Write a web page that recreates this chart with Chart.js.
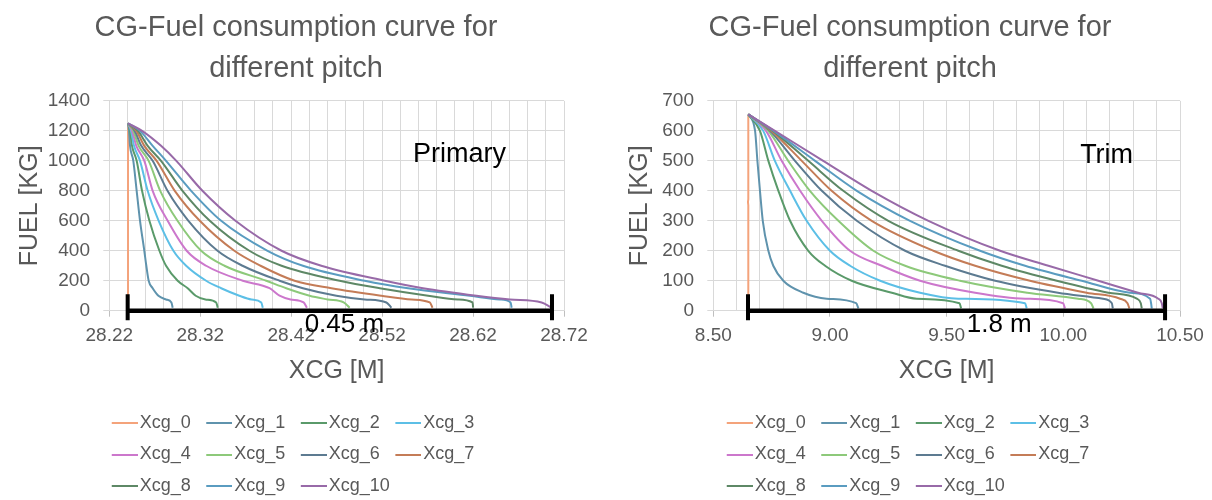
<!DOCTYPE html>
<html>
<head>
<meta charset="utf-8">
<title>CG-Fuel consumption curve for different pitch</title>
<script src="https://cdn.jsdelivr.net/npm/chart.js@4.4.1/dist/chart.umd.min.js"></script>
<style>
  body { margin: 0; background: #fff; }
  .wrap { display: flex; width: 1212px; height: 500px; }
  canvas { display: block; }
</style>
</head>
<body>
<div class="wrap">
  <canvas id="primary" width="606" height="500"></canvas>
  <canvas id="trim" width="606" height="500"></canvas>
</div>
<script>
/* CG vs fuel curves, Primary and Trim pitch */

const seriesNames = ['Xcg_0', 'Xcg_1', 'Xcg_2', 'Xcg_3', 'Xcg_4', 'Xcg_5',
                     'Xcg_6', 'Xcg_7', 'Xcg_8', 'Xcg_9', 'Xcg_10'];

// ---- Primary: fuel levels (kg) and XCG (m) per curve ----
const primaryFuel0 = [1250, 0];
const primaryX0    = [28.2406, 28.2406];
const primaryFuel  = [1250, 1200, 1100, 1000, 800, 600, 400, 300, 200, 150, 100, 75, 55, 20];
const primaryX1  = [28.2406, 28.2417, 28.2428, 28.2464, 28.2501, 28.2538, 28.2585, 28.2607, 28.2633, 28.2677, 28.2740, 28.2824, 28.2883, 28.2897];
const primaryX2  = [28.2406, 28.2428, 28.2450, 28.2501, 28.2560, 28.2641, 28.2751, 28.2824, 28.2952, 28.3062, 28.3150, 28.3257, 28.3375, 28.3393];
const primaryX3  = [28.2406, 28.2439, 28.2472, 28.2538, 28.2622, 28.2743, 28.2905, 28.3045, 28.3265, 28.3430, 28.3630, 28.3764, 28.3871, 28.3888];
const primaryX4  = [28.2406, 28.2450, 28.2497, 28.2585, 28.2677, 28.2842, 28.3051, 28.3265, 28.3668, 28.3962, 28.4072, 28.4193, 28.4337, 28.4373];
const primaryX5  = [28.2406, 28.2464, 28.2523, 28.2633, 28.2760, 28.2950, 28.3210, 28.3466, 28.3926, 28.4146, 28.4403, 28.4601, 28.4777, 28.4843];
const primaryX6  = [28.2406, 28.2479, 28.2552, 28.2677, 28.2840, 28.3070, 28.3390, 28.3665, 28.4072, 28.4329, 28.4697, 28.5008, 28.5247, 28.5302];
const primaryX7  = [28.2406, 28.2497, 28.2585, 28.2721, 28.2920, 28.3195, 28.3575, 28.3863, 28.4237, 28.4642, 28.5192, 28.5526, 28.5724, 28.5754];
const primaryX8  = [28.2406, 28.2516, 28.2622, 28.2769, 28.3005, 28.3305, 28.3740, 28.4094, 28.4733, 28.5174, 28.5706, 28.6033, 28.6194, 28.6201];
const primaryX9  = [28.2406, 28.2538, 28.2677, 28.2824, 28.3100, 28.3430, 28.3940, 28.4329, 28.5008, 28.5485, 28.6165, 28.6495, 28.6613, 28.6624];
const primaryX10 = [28.2406, 28.2560, 28.2769, 28.2937, 28.3224, 28.3587, 28.4094, 28.4531, 28.5229, 28.5650, 28.6238, 28.6605, 28.6954, 28.7066];

// ---- Trim ----
const trimFuel0 = [655, 372, 362, 352, 0];
const trimX0    = [8.650, 8.650, 8.6485, 8.650, 8.650];
const trimFuel  = [655, 600, 500, 400, 300, 200, 150, 100, 60, 40, 25, 8];
const trimX1  = [8.650, 8.679, 8.689, 8.700, 8.712, 8.736, 8.757, 8.800, 8.886, 8.986, 9.112, 9.122];
const trimX2  = [8.650, 8.700, 8.736, 8.779, 8.829, 8.907, 8.979, 9.093, 9.265, 9.372, 9.555, 9.562];
const trimX3  = [8.650, 8.714, 8.764, 8.829, 8.900, 9.000, 9.086, 9.215, 9.386, 9.550, 9.836, 9.843];
const trimX4  = [8.650, 8.726, 8.793, 8.872, 8.965, 9.086, 9.222, 9.386, 9.622, 9.836, 9.999, 10.007];
const trimX5  = [8.650, 8.736, 8.821, 8.914, 9.036, 9.186, 9.322, 9.557, 9.845, 10.063, 10.119, 10.129];
const trimX6  = [8.650, 8.743, 8.850, 8.965, 9.115, 9.322, 9.493, 9.708, 9.977, 10.170, 10.208, 10.212];
const trimX7  = [8.650, 8.749, 8.879, 9.007, 9.179, 9.443, 9.622, 9.857, 10.100, 10.243, 10.275, 10.283];
const trimX8  = [8.650, 8.755, 8.907, 9.057, 9.250, 9.550, 9.736, 9.972, 10.193, 10.315, 10.332, 10.336];
const trimX9  = [8.650, 8.759, 8.936, 9.115, 9.343, 9.643, 9.836, 10.079, 10.286, 10.372, 10.376, 10.379];
const trimX10 = [8.650, 8.764, 8.971, 9.179, 9.422, 9.729, 9.936, 10.150, 10.320, 10.407, 10.422, 10.426];

const chartTitle = ['CG-Fuel consumption curve for', 'different pitch'];

const TEXT = '#595959';
const GRID = '#d9d9d9';
const FONT = '"Liberation Sans", Arial, sans-serif';
const seriesColors = ['#f4a37b', '#5f93ad', '#5a9a6a', '#5cbfe6', '#cc77cc', '#8dc97a',
                      '#5d7b91', '#c47c57', '#5e8866', '#5a9cc0', '#986aa8'];

Chart.defaults.font.family = FONT;
Chart.defaults.color = TEXT;

// short line used as legend marker
function legendLine(color) {
  const c = document.createElement('canvas');
  c.width = 35; c.height = 2;
  const g = c.getContext('2d');
  g.fillStyle = color;
  g.fillRect(9, 0, 26, 2);
  return c;
}

// move title / legend boxes to where the reference has them
const placeBoxes = {
  id: 'placeBoxes',
  afterLayout(chart, args, o) {
    const lg = chart.legend;
    if (lg) {
      const w = lg.right - lg.left, h = lg.bottom - lg.top;
      lg.left = o.legendLeft; lg.right = lg.left + w;
      lg.top = o.legendTop; lg.bottom = lg.top + h;
    }
    const t = chart.titleBlock;
    if (t) {
      const w = t.right - t.left;
      t.left = o.titleCenter - w / 2; t.right = t.left + w;
    }
  }
};

// black span marker along the x axis + labels
const measureBar = {
  id: 'measureBar',
  afterDatasetsDraw(chart, args, o) {
    const { ctx, scales: { x, y } } = chart;
    const x1 = x.getPixelForValue(o.from);
    const x2 = x.getPixelForValue(o.to);
    const y0 = y.getPixelForValue(0);
    ctx.save();
    ctx.strokeStyle = '#000';
    ctx.lineWidth = 4.5;
    ctx.beginPath();
    ctx.moveTo(x1, y0); ctx.lineTo(x2, y0);
    ctx.stroke();
    ctx.lineWidth = 4;
    ctx.beginPath();
    ctx.moveTo(x1, y0 - 16.5); ctx.lineTo(x1, y0 + 9.5);
    ctx.moveTo(x2, y0 - 16.5); ctx.lineTo(x2, y0 + 9.5);
    ctx.stroke();
    ctx.fillStyle = '#000';
    ctx.textAlign = 'left';
    ctx.textBaseline = 'alphabetic';
    ctx.font = '26px ' + FONT;
    ctx.fillText(o.span, x.getPixelForValue(o.spanX), y.getPixelForValue(o.spanY));
    ctx.font = '27px ' + FONT;
    ctx.fillText(o.name, x.getPixelForValue(o.nameX), y.getPixelForValue(o.nameY));
    ctx.restore();
  }
};

function buildDatasets(xs, fuels) {
  return xs.map((xv, i) => ({
    label: seriesNames[i],
    data: xv.map((x, j) => ({ x, y: fuels[i][j] })),
    showLine: true,
    borderColor: seriesColors[i],
    backgroundColor: seriesColors[i],
    borderWidth: 2,
    pointRadius: 0,
    pointHoverRadius: 0,
    pointStyle: legendLine(seriesColors[i]),
    tension: 0,
    cubicInterpolationMode: i === 0 ? 'default' : 'monotone',
    order: 10 - i,
  }));
}

function makeChart(id, cfg) {
  const isMajor = v => Math.round((v - cfg.xMin) / cfg.xStep) % 5 === 0;
  return new Chart(document.getElementById(id), {
    type: 'scatter',
    data: { datasets: buildDatasets(cfg.xs, cfg.fuels) },
    options: {
      responsive: false,
      animation: false,
      devicePixelRatio: 1,
      layout: { padding: { left: 0, top: 0, right: cfg.padRight, bottom: 0 } },
      plugins: {
        title: {
          display: true, text: chartTitle, color: TEXT,
          font: { size: 29, weight: 'normal', lineHeight: 1.4 },
          padding: { top: 7.6, bottom: 12.1 },
        },
        legend: {
          position: 'bottom', align: 'start', fullSize: false,
          labels: {
            color: TEXT, font: { size: 18 }, usePointStyle: true, pointStyleWidth: 21,
            padding: 13.5, sort: (a, b) => a.datasetIndex - b.datasetIndex,
          },
        },
        tooltip: { enabled: false },
        placeBoxes: { titleCenter: cfg.titleCenter, legendLeft: cfg.legendLeft, legendTop: 400.5 },
        measureBar: cfg.measure,
      },
      scales: {
        x: {
          type: 'linear', min: cfg.xMin, max: cfg.xMax,
          afterFit: s => { s.height = 84.8; },
          ticks: {
            stepSize: cfg.xStep, autoSkip: false, maxRotation: 0, minRotation: 0,
            color: TEXT, font: { size: 19 }, padding: 7.9,
            callback: v => isMajor(v) ? v.toFixed(2) : '',
          },
          grid: {
            color: GRID, tickLength: 6,
            tickColor: c => isMajor(c.tick.value) ? '#bfbfbf' : 'rgba(0,0,0,0)',
          },
          border: { color: GRID },
          title: {
            display: true, text: 'XCG [M]', color: TEXT, font: { size: 25 },
            padding: { top: 0, bottom: 9 },
          },
        },
        y: {
          min: 0, max: cfg.yMax,
          afterFit: s => { s.width = cfg.plotLeft; },
          ticks: {
            stepSize: cfg.yStep, color: TEXT, font: { size: 19 }, padding: 13.3,
            callback: v => String(v),
          },
          grid: { color: GRID, tickLength: 6 },
          border: { color: GRID },
          title: {
            display: true, text: 'FUEL [KG]', color: TEXT, font: { size: 25 },
            padding: { top: cfg.yTitlePad, bottom: 0 },
          },
        },
      },
    },
    plugins: [placeBoxes, measureBar],
  });
}

makeChart('primary', {
  xs: [primaryX0, primaryX1, primaryX2, primaryX3, primaryX4, primaryX5,
       primaryX6, primaryX7, primaryX8, primaryX9, primaryX10],
  fuels: [primaryFuel0, primaryFuel, primaryFuel, primaryFuel, primaryFuel, primaryFuel,
          primaryFuel, primaryFuel, primaryFuel, primaryFuel, primaryFuel],
  xMin: 28.22, xMax: 28.72, xStep: 0.02,
  yMax: 1400, yStep: 200,
  plotLeft: 109.3, padRight: 42, yTitlePad: 15,
  titleCenter: 296, legendLeft: 96.2,
  measure: { from: 28.2402, to: 28.7068, span: '0.45 m', spanX: 28.4348, spanY: -140,
             name: 'Primary', nameX: 28.554, nameY: 993 },
});

makeChart('trim', {
  xs: [trimX0, trimX1, trimX2, trimX3, trimX4, trimX5,
       trimX6, trimX7, trimX8, trimX9, trimX10],
  fuels: [trimFuel0, trimFuel, trimFuel, trimFuel, trimFuel, trimFuel,
          trimFuel, trimFuel, trimFuel, trimFuel, trimFuel],
  xMin: 8.5, xMax: 10.5, xStep: 0.1,
  yMax: 700, yStep: 100,
  plotLeft: 107.3, padRight: 32, yTitlePad: 19,
  titleCenter: 304, legendLeft: 105.2,
  measure: { from: 8.6487, to: 10.436, span: '1.8 m', spanX: 9.586, spanY: -70,
             name: 'Trim', nameX: 10.072, nameY: 493 },
});
</script>
</body>
</html>
